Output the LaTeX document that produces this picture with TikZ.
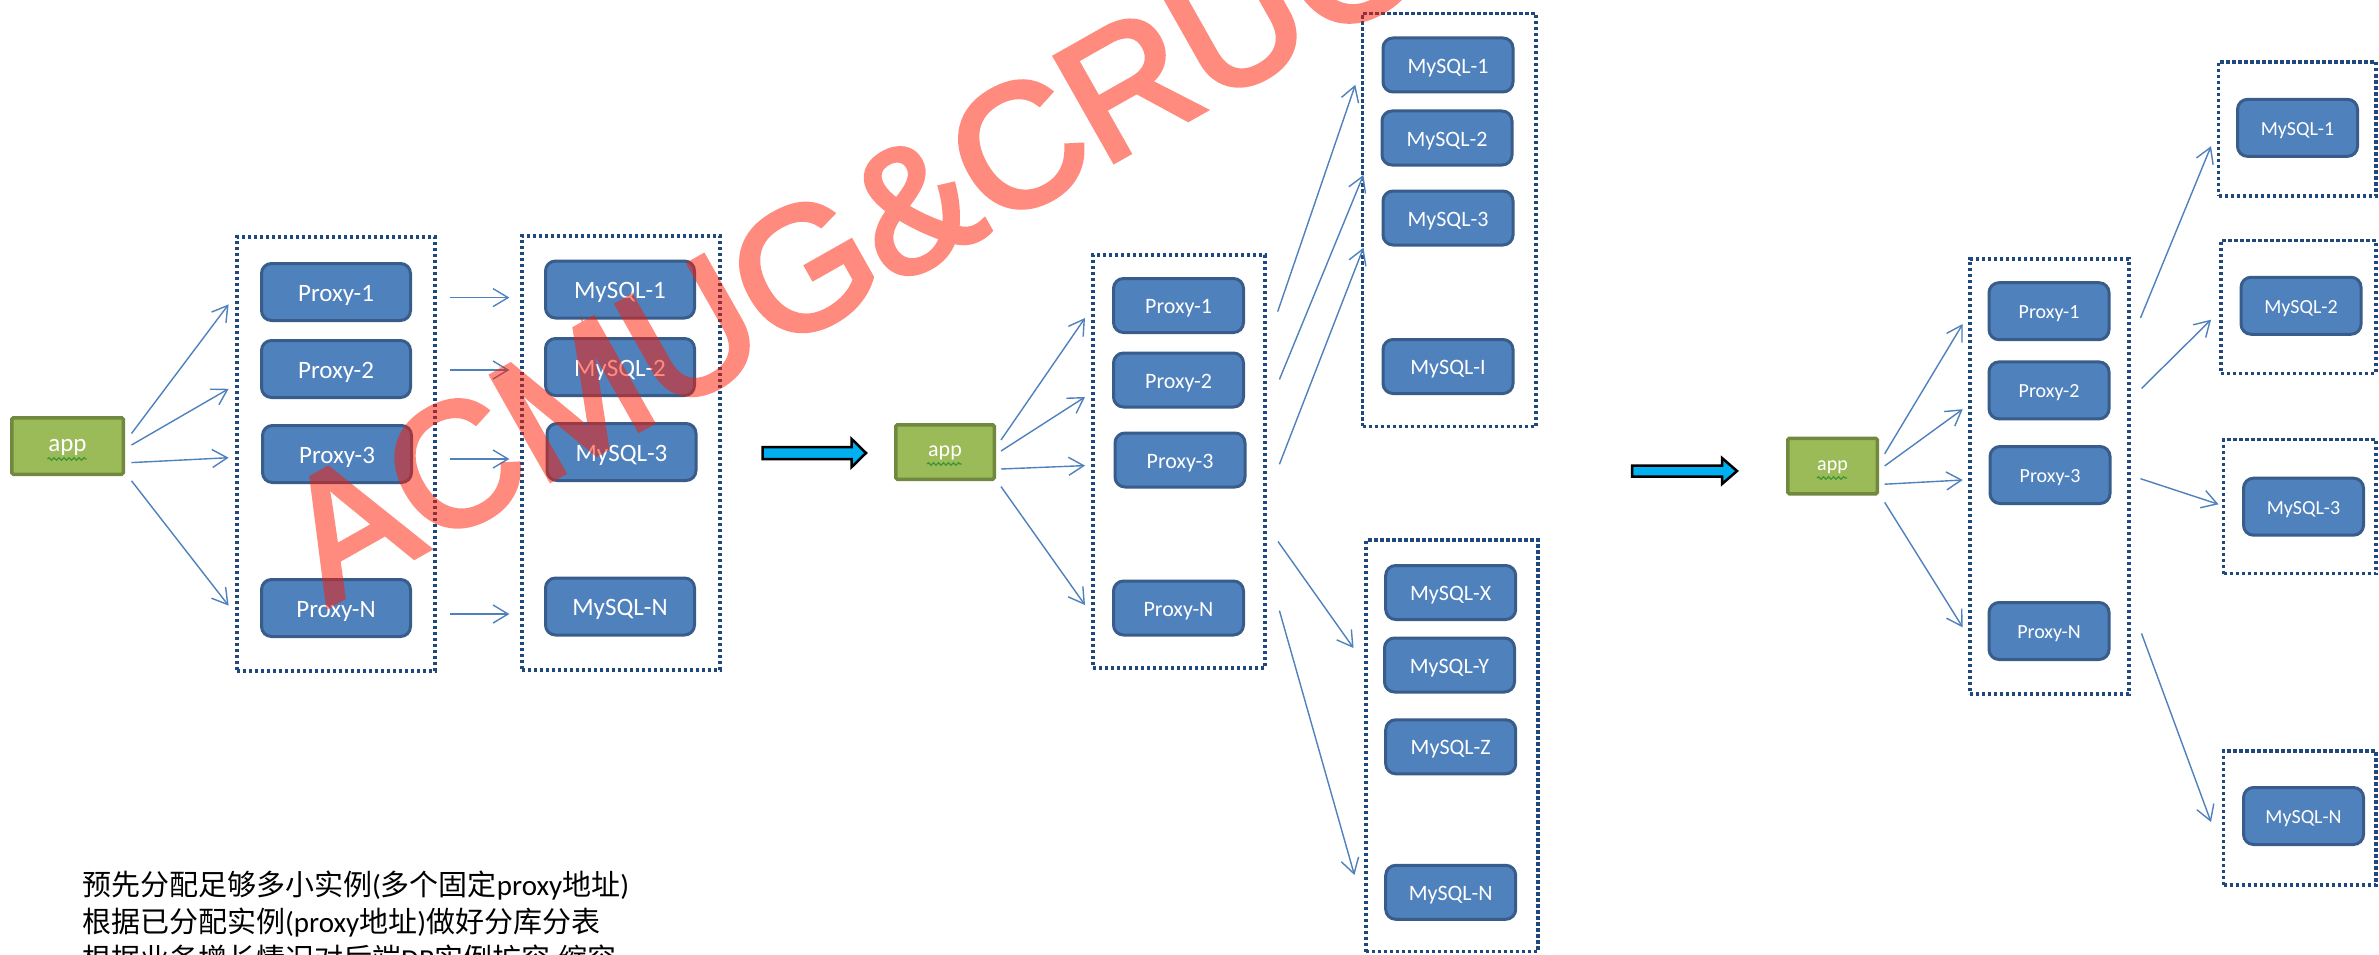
\documentclass[tikz,border=0pt]{standalone}
\usepackage{fontspec}
\setmainfont{Carlito}
\newfontfamily\cjk{Noto Sans CJK SC}
\newfontfamily\wmfont[FakeBold=3]{Liberation Sans}
\usetikzlibrary{arrows.meta,calc,decorations.pathmorphing}
\definecolor{boxfill}{RGB}{79,129,189}
\definecolor{boxline}{RGB}{56,93,138}
\definecolor{contline}{RGB}{31,73,125}
\definecolor{connc}{RGB}{79,129,189}
\definecolor{appfill}{RGB}{155,187,89}
\definecolor{appline}{RGB}{113,137,63}
\definecolor{bigarrowfill}{RGB}{0,176,240}
\definecolor{wmred}{RGB}{255,25,0}
\definecolor{squigc}{RGB}{60,150,50}
\begin{document}
\begin{tikzpicture}[x=1pt,y=-1pt,
  box/.style={draw=boxline, line width=3pt, fill=boxfill, rounded corners=10pt, text=white, inner sep=0pt, outer sep=0pt},
  boxA/.style={box, minimum width=149pt, minimum height=57pt, font=\fontsize{25pt}{30pt}\selectfont, text height=23.25pt, text depth=4.75pt},
  boxB/.style={box, minimum width=130pt, minimum height=54pt, font=\fontsize{22pt}{26pt}\selectfont, text height=20.5pt, text depth=4.2pt},
  boxC/.style={box, minimum width=120pt, minimum height=57pt, font=\fontsize{20pt}{24pt}\selectfont, text height=18.6pt, text depth=3.8pt},
  appbox/.style={draw=appline, line width=3.5pt, fill=appfill, rounded corners=1.5pt, text=white, inner sep=0pt, outer sep=0pt},
  appA/.style={appbox, minimum width=111.5pt, minimum height=56.5pt, font=\fontsize{25pt}{30pt}\selectfont, text height=20pt, text depth=9pt},
  appB/.style={appbox, minimum width=98.5pt, minimum height=54.5pt, font=\fontsize{22pt}{26pt}\selectfont, text height=17.6pt, text depth=7.9pt},
  appC/.style={appbox, minimum width=89.5pt, minimum height=55.5pt, font=\fontsize{20pt}{24pt}\selectfont, text height=16pt, text depth=7.2pt},
  cont/.style={draw=contline, line width=3.3pt, dash pattern=on 3.3pt off 2.7pt, inner sep=0pt, outer sep=0pt},
  conn/.style={draw=connc, line width=1.4pt, -{Straight Barb[length=15pt,width=18pt]}},
  bigarrow/.style={fill=bigarrowfill, draw=black, line width=2.5pt, line join=miter},
  squig/.style={draw=squigc, line width=1.2pt, decorate, decoration={snake, amplitude=1.3pt, segment length=5pt}},
  note/.style={anchor=base west, inner sep=0pt, font=\fontsize{29pt}{36pt}\selectfont},
  wm/.style={anchor=base west, inner sep=0pt, font=\wmfont\fontsize{174pt}{174pt}\selectfont, text=wmred}
]
\fill[white] (0,0) rectangle (2379,955);
\useasboundingbox (0,0) rectangle (2379,955);

% ---------------- left section ----------------
\node[cont, minimum width=198pt, minimum height=434pt] (pcA) at (336,454) {};
\node[cont, minimum width=198pt, minimum height=434pt] (mcA) at (621,453) {};
\node[appA] (appA) at (67.5,446) {app};
\draw[squig] ($(appA.center)+(-20,13)$) -- ($(appA.center)+(19,13)$);
\node[boxA] (pA1) at (336,292) {Proxy-1};
\node[boxA] (pA2) at (336,369) {Proxy-2};
\node[boxA] (pA3) at (337,454) {Proxy-3};
\node[boxA] (pAN) at (336,608) {Proxy-N};
\node[boxA] (mA1) at (620,289.5) {MySQL-1};
\node[boxA] (mA2) at (620,367) {MySQL-2};
\node[boxA] (mA3) at (621.5,452) {MySQL-3};
\node[boxA] (mAN) at (620,606.5) {MySQL-N};
\draw[conn] ($(appA.center)+(64,-12.5)$) -- ($(pA1.center)+(-107.4,12.4)$);
\draw[conn] ($(appA.center)+(64,-1)$) -- ($(pA2.center)+(-107.4,19.8)$);
\draw[conn] ($(appA.center)+(64,16.6)$) -- ($(pA3.center)+(-108.4,3.7)$);
\draw[conn] ($(appA.center)+(64,34.8)$) -- ($(pAN.center)+(-107.4,-2.4)$);
\draw[conn] ($(pA1.center)+(113.6,5.6)$) -- ($(mA1.center)+(-110.6,8.1)$);
\draw[conn] ($(pA2.center)+(113.6,1)$) -- ($(mA2.center)+(-110.6,3)$);
\draw[conn] ($(pA3.center)+(112.6,5)$) -- ($(mA3.center)+(-112.1,7)$);
\draw[conn] ($(pAN.center)+(113.6,6)$) -- ($(mAN.center)+(-110.6,7.5)$);

\draw[bigarrow] (762.7,447) -- (851.7,447) -- (851.7,439) -- (866,453) -- (851.7,467) -- (851.7,459) -- (762.7,459) -- cycle;

% ---------------- middle section ----------------
\node[cont, minimum width=172pt, minimum height=413pt] (pcB) at (1179,461.5) {};
\node[cont, minimum width=173.5pt, minimum height=413pt] (mcB1) at (1449.25,219.85) {};
\node[cont, minimum width=172pt, minimum height=411.5pt] (mcB2) at (1452,745.75) {};
\node[appB] (appB) at (945,452) {app};
\draw[squig] ($(appB.center)+(-18,12)$) -- ($(appB.center)+(16.6,12)$);
\node[boxB] (pB1) at (1178.5,305.5) {Proxy-1};
\node[boxB] (pB2) at (1178.5,380) {Proxy-2};
\node[boxB] (pB3) at (1180,460) {Proxy-3};
\node[boxB] (pBN) at (1178.5,608) {Proxy-N};
\node[boxB] (mB1) at (1448,65) {MySQL-1};
\node[boxB] (mB2) at (1447,138) {MySQL-2};
\node[boxB] (mB3) at (1448,218) {MySQL-3};
\node[boxB] (mBI) at (1448,366.5) {MySQL-I};
\node[boxB] (mBX) at (1450.7,592.5) {MySQL-X};
\node[boxB] (mBY) at (1449.5,665) {MySQL-Y};
\node[boxB] (mBZ) at (1450.7,746.8) {MySQL-Z};
\node[boxB] (mBN) at (1450.7,892.3) {MySQL-N};
\draw[conn] ($(appB.center)+(56,-12)$) -- ($(pB1.center)+(-93.5,12.5)$);
\draw[conn] ($(appB.center)+(56,-1)$) -- ($(pB2.center)+(-93.5,17)$);
\draw[conn] ($(appB.center)+(56,17)$) -- ($(pB3.center)+(-95,5.6)$);
\draw[conn] ($(appB.center)+(56,34.6)$) -- ($(pBN.center)+(-93.5,-3)$);
\draw[conn] ($(pB1.center)+(99.2,6.1)$) -- ($(mB1.center)+(-92.7,19.8)$);
\draw[conn] ($(pB2.center)+(100.9,-0.5)$) -- ($(mB2.center)+(-83.6,37)$);
\draw[conn] ($(pB3.center)+(99.4,4.3)$) -- ($(mB3.center)+(-84.6,29.8)$);
\draw[conn] ($(pBN.center)+(99.5,-66.5)$) -- ($(mBX.center)+(-97.2,55.5)$);
\draw[conn] ($(pBN.center)+(100.9,2.6)$) -- ($(mBN.center)+(-96.3,-17.3)$);

\draw[bigarrow] (1632,465.5) -- (1722,465.5) -- (1722,458) -- (1737,471) -- (1722,484) -- (1722,476.5) -- (1632,476.5) -- cycle;

% ---------------- right section ----------------
\node[cont, minimum width=159pt, minimum height=435pt] (pcC) at (2049.5,476.6) {};
\node[cont, minimum width=157.5pt, minimum height=134pt] (mcC1) at (2297.25,129) {};
\node[cont, minimum width=155pt, minimum height=132.7pt] (mcC2) at (2298.5,307) {};
\node[cont, minimum width=152.5pt, minimum height=134pt] (mcC3) at (2299.75,506.7) {};
\node[cont, minimum width=152.5pt, minimum height=134pt] (mcC4) at (2299.75,818) {};
\node[appC] (appC) at (1832.5,466) {app};
\draw[squig] ($(appC.center)+(-15.5,12)$) -- ($(appC.center)+(14.5,12)$);
\node[boxC] (pC1) at (2049,311.2) {Proxy-1};
\node[boxC] (pC2) at (2049,390.4) {Proxy-2};
\node[boxC] (pC3) at (2050,475) {Proxy-3};
\node[boxC] (pCN) at (2049,631) {Proxy-N};
\node[boxC] (mC1) at (2297.5,127.85) {MySQL-1};
\node[boxC] (mC2) at (2301,305.75) {MySQL-2};
\node[boxC] (mC3) at (2303.5,506.7) {MySQL-3};
\node[boxC] (mCN) at (2303.5,816) {MySQL-N};
\draw[conn] ($(appC.center)+(52.2,-12.3)$) -- ($(pC1.center)+(-86.3,12.8)$);
\draw[conn] ($(appC.center)+(52.2,-0.1)$) -- ($(pC2.center)+(-86.3,18.8)$);
\draw[conn] ($(appC.center)+(52.2,18.2)$) -- ($(pC3.center)+(-87.3,5)$);
\draw[conn] ($(appC.center)+(52.2,36.4)$) -- ($(pCN.center)+(-86.3,-3.7)$);
\draw[conn] ($(pC1.center)+(91.5,6.7)$) -- ($(mC1.center)+(-86.5,18.35)$);
\draw[conn] ($(pC2.center)+(92.5,-1.9)$) -- ($(mC2.center)+(-90,13.95)$);
\draw[conn] ($(pC3.center)+(90.5,3.7)$) -- ($(mC3.center)+(-85,-2.4)$);
\draw[conn] ($(pCN.center)+(92.5,2.4)$) -- ($(mCN.center)+(-92.5,6)$);

% ---------------- notes ----------------
\node[note] (t1) at (82,895) {{\cjk 预先分配足够多小实例}({\cjk 多个固定}proxy{\cjk 地址})};
\node[note] (t2) at (82,932) {{\cjk 根据已分配实例}(proxy{\cjk 地址}){\cjk 做好分库分表}};
\node[note] (t3) at (82,969) {{\cjk 根据业务增长情况对后端}DB{\cjk 实例扩容},{\cjk 缩容}};

% ---------------- watermark ----------------
\begin{scope}[transparency group, opacity=0.5]
\node[wm, rotate=29.5] (wmk) at (328,606) {ACMUG\&CRUG};
\end{scope}
\end{tikzpicture}
\end{document}
